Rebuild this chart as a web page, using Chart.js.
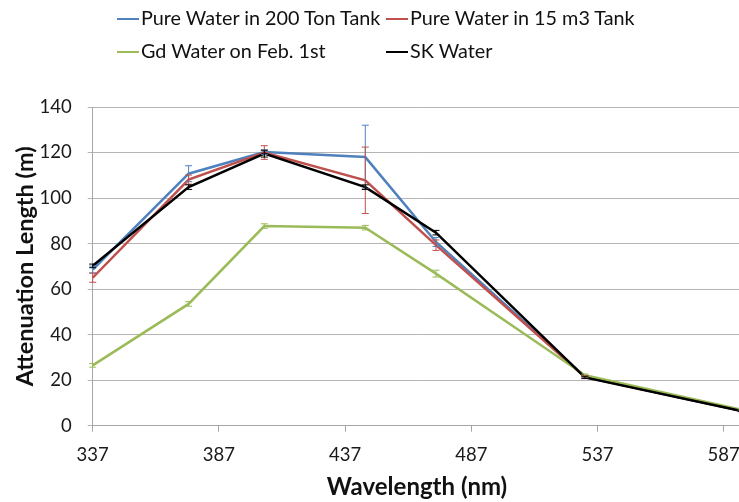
<!DOCTYPE html>
<html>
<head>
<meta charset="utf-8">
<script src="https://cdn.jsdelivr.net/npm/chart.js@4.4.1/dist/chart.umd.min.js"></script>
<style>
  html, body { margin: 0; padding: 0; background: #fff; overflow: hidden; width: 739px; height: 502px; }
  #wrap { position: absolute; left: 0; top: 0; width: 752px; height: 502px; }
  .lg { position: absolute; font-family: Lato, "Open Sans", sans-serif; font-size: 19.8px; color: #111; white-space: nowrap; line-height: 22px; }
  .lg .sw { display: inline-block; width: 22px; height: 2px; vertical-align: middle; margin-right: 2px; position: relative; top: -1px; }
</style>
</head>
<body>
<div id="wrap"><canvas id="c"></canvas></div>
<div id="legend"></div>
<script>
// ---- data ----
const wavelengths = [337, 375, 405, 445, 473, 532, 594];
const pure200     = [68.6, 110.7, 120.2, 118.0, 80.7, 21.5, 6.5];
const pure200Err  = [1.5, 3.5, 1.0, 14.0, 2.0, 0.5, 0.3];
const pure15      = [65.0, 108.1, 120.0, 107.8, 79.3, 21.5, 6.5];
const pure15Err   = [2.0, 2.0, 3.0, 14.6, 2.3, 0.5, 0.3];
const gdWater     = [26.5, 53.5, 87.7, 87.0, 66.8, 22.2, 7.0];
const gdWaterErr  = [0.8, 1.0, 1.0, 1.0, 1.5, 0.5, 0.3];
const skWater     = [70.2, 104.8, 119.5, 104.8, 84.8, 21.2, 6.5];
const skWaterErr  = [0.8, 1.0, 1.5, 1.0, 1.0, 0.5, 0.3];
const seriesNames = ["Pure Water in 200 Ton Tank", "Pure Water in 15 m3 Tank", "Gd Water on Feb. 1st", "SK Water"];
const xTicks = [337, 387, 437, 487, 537, 587];
const yTicks = [0, 20, 40, 60, 80, 100, 120, 140];

const colors = ["#4F81BD", "#C0504D", "#9BBB59", "#000000"];
const values = [pure200, pure15, gdWater, skWater];
const errors = [pure200Err, pure15Err, gdWaterErr, skWaterErr];

const datasets = values.map((vals, i) => ({
  label: seriesNames[i],
  data: vals.map((v, k) => ({ x: wavelengths[k], y: v })),
  errors: errors[i],
  borderColor: colors[i],
  backgroundColor: colors[i],
  borderWidth: 2.5,
  pointRadius: 0,
  tension: 0,
  order: 4 - i
}));

const errorBars = {
  id: 'errorBars',
  afterDatasetsDraw(chart) {
    const ctx = chart.ctx;
    const ys = chart.scales.y;
    ctx.save();
    chart.data.datasets.forEach((ds, i) => {
      const meta = chart.getDatasetMeta(i);
      ctx.strokeStyle = ds.borderColor;
      ctx.lineWidth = 1;
      meta.data.forEach((pt, k) => {
        const e = ds.errors[k];
        const v = ds.data[k].y;
        const y1 = ys.getPixelForValue(v - e);
        const y2 = ys.getPixelForValue(v + e);
        const x = pt.x;
        ctx.beginPath();
        ctx.moveTo(x, y1); ctx.lineTo(x, y2);
        ctx.moveTo(x - 3.5, y1); ctx.lineTo(x + 3.5, y1);
        ctx.moveTo(x - 3.5, y2); ctx.lineTo(x + 3.5, y2);
        ctx.stroke();
      });
    });
    ctx.restore();
  }
};

new Chart(document.getElementById('c'), {
  type: 'line',
  data: { datasets },
  plugins: [errorBars],
  options: {
    responsive: true,
    maintainAspectRatio: false,
    animation: false,
    layout: { padding: { top: 107, left: 0, right: 7.5, bottom: 0 } },
    plugins: { legend: { display: false }, tooltip: { enabled: false } },
    scales: {
      x: {
        type: 'linear',
        min: 337, max: 594,
        afterBuildTicks: s => { s.ticks = xTicks.map(v => ({ value: v })); },
        afterFit: s => { s.height = 76.3; },
        grid: { drawOnChartArea: false, drawTicks: true, tickLength: 6, color: '#a6a6a6' },
        border: { color: '#a6a6a6', width: 1 },
        ticks: { color: '#1a1a1a', padding: 12, maxRotation: 0, font: { family: 'Lato', size: 18.5 } },
        title: { display: true, text: 'Wavelength (nm)', color: '#111', padding: { top: 0, bottom: 0.6 }, font: { family: 'Lato', size: 24, weight: 'bold' } }
      },
      y: {
        min: 0, max: 140,
        afterBuildTicks: s => { s.ticks = yTicks.map(v => ({ value: v })); },
        afterFit: s => { s.width = 92.7; },
        grid: { drawOnChartArea: true, drawTicks: true, tickLength: 5, color: '#b4b4b4' },
        border: { color: '#a6a6a6', width: 1 },
        ticks: { color: '#1a1a1a', padding: 16, font: { family: 'Lato', size: 18.5 } },
        title: { display: true, text: 'Attenuation Length (m)', color: '#111', padding: { top: 11, bottom: 0 }, font: { family: 'Lato', size: 23.5, weight: 'bold' } }
      }
    }
  }
});

// legend (HTML, laid out in two aligned columns like the reference)
const legendPos = [[117, 6], [386, 6], [117, 39], [386, 39]];
const lg = document.getElementById('legend');
seriesNames.forEach((name, i) => {
  const d = document.createElement('div');
  d.className = 'lg';
  d.style.left = legendPos[i][0] + 'px';
  d.style.top = legendPos[i][1] + 'px';
  const sw = document.createElement('span');
  sw.className = 'sw';
  sw.style.background = colors[i];
  d.appendChild(sw);
  d.appendChild(document.createTextNode(name));
  lg.appendChild(d);
});
</script>
</body>
</html>
